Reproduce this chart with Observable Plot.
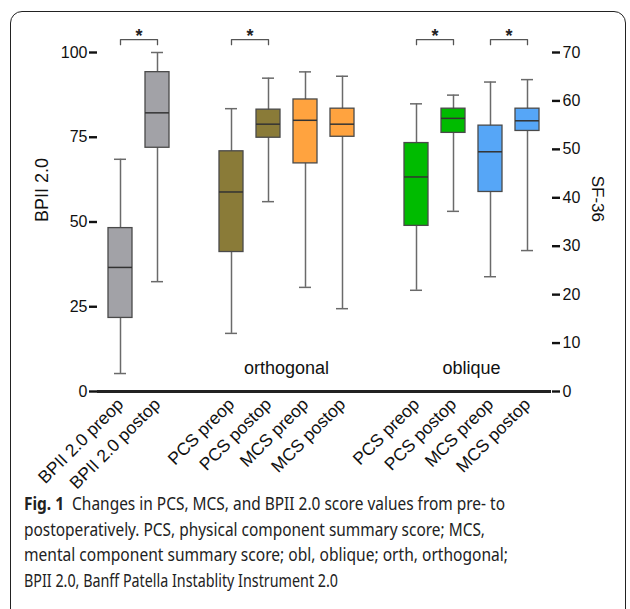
<!DOCTYPE html>
<html>
<head>
<meta charset="utf-8">
<script src="https://cdn.jsdelivr.net/npm/d3@7"></script>
<script src="https://cdn.jsdelivr.net/npm/@observablehq/plot@0.6"></script>
<style>
  html, body { margin: 0; padding: 0; background: #fff; }
  #wrap { position: relative; width: 630px; height: 609px; overflow: hidden; }
  #frame { position: absolute; left: 10px; top: 11px; width: 616px; height: 610px;
           border: 1.3px solid #222; border-radius: 12px; box-sizing: border-box; }
  #chart { position: absolute; left: 0; top: 0; }
  #chart svg { overflow: visible; }
  #chart svg, #chart svg text { font-family: "Liberation Sans", Arimo, Arial, Helvetica, sans-serif !important; }
  #caption { position: absolute; left: 24px; top: 491px; font-family: "Noto Sans", "Open Sans", sans-serif;
             font-size: 18px; color: #222; }
  #caption .ln { position: absolute; left: 0; white-space: nowrap; transform-origin: 0 0; display: inline-block; }
</style>
</head>
<body>
<div id="wrap">
  <div id="frame"></div>
  <div id="chart"></div>
  <div id="caption"></div>
</div>
<script>
// ---- data ----
const keys = ["BPII pre", "BPII post", "gap1", "orth PCS pre", "orth PCS post", "orth MCS pre", "orth MCS post",
              "gap2", "obl PCS pre", "obl PCS post", "obl MCS pre", "obl MCS post"];
const categories = ["BPII pre", "BPII post", "orth PCS pre", "orth PCS post", "orth MCS pre", "orth MCS post",
                    "obl PCS pre", "obl PCS post", "obl MCS pre", "obl MCS post"];
const tickLabels = ["BPII 2.0 preop", "BPII 2.0 postop", "PCS preop", "PCS postop", "MCS preop", "MCS postop",
                    "PCS preop", "PCS postop", "MCS preop", "MCS postop"];
const groups = ["BPII", "BPII", "PCS orth", "PCS orth", "MCS orth", "MCS orth", "PCS obl", "PCS obl", "MCS obl", "MCS obl"];
const instrument = ["BPII", "BPII", "SF", "SF", "SF", "SF", "SF", "SF", "SF", "SF"];
const whiskerLow  = [5.3, 32.4, 12.0, 39.2, 21.5, 17.1, 20.9, 37.2, 23.7, 29.1];
const q1          = [21.7, 71.9, 28.8, 52.4, 47.1, 52.6, 34.2, 53.4, 41.2, 53.8];
const median      = [36.6, 82.2, 41.2, 55.2, 56.0, 55.2, 44.3, 56.4, 49.5, 55.9];
const q3          = [48.2, 94.2, 49.6, 58.2, 60.3, 58.4, 51.3, 58.4, 54.9, 58.4];
const whiskerHigh = [68.5, 100, 58.4, 64.7, 66.0, 65.1, 59.4, 61.2, 63.9, 64.4];
const groupNames  = ["BPII", "PCS orth", "MCS orth", "PCS obl", "MCS obl"];
const groupColors = ["#a2a2a7", "#8a7b38", "#ffa33f", "#00bb00", "#56a6f7"];
const sigPairs = [["BPII pre", "BPII post"], ["orth PCS pre", "orth PCS post"],
                  ["obl PCS pre", "obl PCS post"], ["obl MCS pre", "obl MCS post"]];
const leftTicks = [0, 25, 50, 75, 100];
const rightTicks = [0, 10, 20, 30, 40, 50, 60, 70];
const sectionLabels = [{key: "orth MCS pre", text: "orthogonal"}, {key: "obl MCS pre", text: "oblique"}];
const captionLines = [
  "<b>Fig. 1</b>&nbsp; Changes in PCS, MCS, and BPII 2.0 score values from pre- to",
  "postoperatively. PCS, physical component summary score; MCS,",
  "mental component summary score; obl, oblique; orth, orthogonal;",
  "BPII 2.0, Banff Patella Instablity Instrument 2.0"
];

// ---- build ----
const SF = 100 / 70; // SF-36 units -> BPII axis units
const conv = (v, i) => instrument[i] === "SF" ? v * SF : v;
const table = categories.map((k, i) => ({
  key: k, group: groups[i],
  lo: conv(whiskerLow[i], i), q1: conv(q1[i], i), med: conv(median[i], i),
  q3: conv(q3[i], i), hi: conv(whiskerHigh[i], i)
}));
const bracketTop = 103.8, bracketLeg = 102.3;
const brackets = sigPairs.flatMap(([a, b], j) => [
  {x: a, y: bracketLeg, z: j}, {x: a, y: bracketTop, z: j},
  {x: b, y: bracketTop, z: j}, {x: b, y: bracketLeg, z: j}
]);
const labelMap = new Map(categories.map((k, i) => [k, tickLabels[i]]));
const FONT = "'Liberation Sans', Arimo, Arial, Helvetica, sans-serif";

const chart = Plot.plot({
  width: 630, height: 520,
  marginLeft: 97, marginRight: 79, marginTop: 52, marginBottom: 129,
  style: {fontFamily: FONT, fontSize: "16px", background: "transparent", color: "#111"},
  x: {type: "band", domain: keys, range: [97, 551], paddingInner: 0.34, paddingOuter: 0.17, axis: null},
  y: {domain: [0, 100], nice: false, axis: null},
  color: {domain: groupNames, range: groupColors},
  marks: [
    // whiskers
    Plot.ruleX(table, {x: "key", y1: "lo", y2: "hi", stroke: "#6a6a6a", strokeWidth: 1.5}),
    Plot.tickY(table, {x: "key", y: "lo", stroke: "#6a6a6a", strokeWidth: 1.5, insetLeft: 6, insetRight: 6}),
    Plot.tickY(table, {x: "key", y: "hi", stroke: "#6a6a6a", strokeWidth: 1.5, insetLeft: 6, insetRight: 6}),
    // boxes
    Plot.barY(table, {x: "key", y1: "q1", y2: "q3", fill: "group", stroke: "#4a4a4a", strokeWidth: 1.3}),
    Plot.tickY(table, {x: "key", y: "med", stroke: "#333", strokeWidth: 1.5}),
    // significance brackets
    Plot.line(brackets, {x: "x", y: "y", z: "z", stroke: "#555", strokeWidth: 1.3}),
    Plot.text(sigPairs, {x: d => d[0], y: bracketTop, text: () => "*", dx: 18.5, dy: -3, fontSize: 18, fontWeight: "bold", fill: "#222"}),
    // section labels
    Plot.text(sectionLabels, {x: "key", y: 6.8, text: "text", dx: -19, fontSize: 18, fill: "#111"}),
    // axes
    Plot.axisY({ticks: leftTicks, anchor: "left", tickSize: 8, tickPadding: 2, fontSize: 16, strokeWidth: 2.4, line: true}),
    Plot.axisY({ticks: rightTicks.map(v => v * SF), tickFormat: d => Math.round(d / SF), anchor: "right",
                tickSize: 8, tickPadding: 3, fontSize: 16, strokeWidth: 2.4, line: true}),
    Plot.ruleY([0], {stroke: "#222", strokeWidth: 3}),
    Plot.axisX({ticks: categories, tickFormat: d => labelMap.get(d), tickSize: 0, tickPadding: 10, tickRotate: -45, fontSize: 17.5}),
    // axis titles
    Plot.text(["BPII 2.0"], {frameAnchor: "left", dx: -55, rotate: -90, fontSize: 18, fill: "#111"}),
    Plot.text(["SF-36"], {frameAnchor: "right", dx: 46, rotate: 90, fontSize: 17, fill: "#111"})
  ]
});
chart.querySelectorAll("text").forEach(t => t.style.fontFamily = FONT);
document.getElementById("chart").appendChild(chart);

// ---- caption ----
const cap = document.getElementById("caption");
const lineTops = [0, 26, 51, 77];
const targetWidths = [481, 461, 484, 314];
captionLines.forEach((t, i) => {
  const s = document.createElement("span");
  s.className = "ln";
  s.innerHTML = t;
  s.style.top = lineTops[i] + "px";
  cap.appendChild(s);
  const w = s.getBoundingClientRect().width;
  if (w > 0) s.style.transform = `scaleX(${targetWidths[i] / w})`;
});
</script>
</body>
</html>
